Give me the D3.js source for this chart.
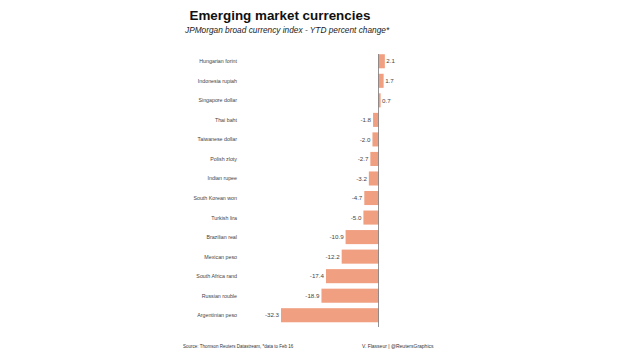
<!DOCTYPE html>
<html><head><meta charset="utf-8">
<script src="https://cdn.jsdelivr.net/npm/d3@7"></script>
<style>body{margin:0;background:#fff}svg{display:block}text{font-family:Arial,"Liberation Sans",sans-serif}</style>
</head><body><svg id="c" width="620" height="355"></svg>
<script>
const categories = ["Hungarian forint","Indonesia rupiah","Singapore dollar","Thai baht","Taiwanese dollar","Polish zloty","Indian rupee","South Korean won","Turkish lira","Brazilian real","Mexican peso","South Africa rand","Russian rouble","Argentinian peso"];
const values = [2.1,1.7,0.7,-1.8,-2.0,-2.7,-3.2,-4.7,-5.0,-10.9,-12.2,-17.4,-18.9,-32.3];
const valueLabels = ["2.1","1.7","0.7","-1.8","-2.0","-2.7","-3.2","-4.7","-5.0","-10.9","-12.2","-17.4","-18.9","-32.3"];

const svg = d3.select("#c");
const x = d3.scaleLinear().domain([-32.3, 0]).range([281, 378.5]);
const y = d3.scaleBand().domain(categories).range([51.5, 325]).paddingInner(0.28).paddingOuter(0.14);

svg.append("text").attr("x", 189.5).attr("y", 20).attr("font-size", 13.4).attr("font-weight", "bold").attr("fill", "#111").text("Emerging market currencies");
svg.append("text").attr("x", 185).attr("y", 33).attr("font-size", 8.3).attr("font-style", "italic").attr("fill", "#222").text("JPMorgan broad currency index - YTD percent change*");

svg.selectAll("rect.bar").data(values).join("rect").attr("class","bar")
  .attr("x", d => x(Math.min(0, d)))
  .attr("width", d => Math.abs(x(d) - x(0)))
  .attr("y", (d,i) => y(categories[i]))
  .attr("height", y.bandwidth())
  .attr("fill", "#f09f80");

svg.append("line").attr("x1", x(0)).attr("x2", x(0)).attr("y1", 54).attr("y2", 327).attr("stroke", "#777").attr("stroke-width", 0.8);

svg.selectAll("text.cat").data(categories).join("text").attr("class","cat")
  .attr("x", 237).attr("y", d => y(d) + y.bandwidth()/2 + 2)
  .attr("text-anchor", "end").attr("font-size", 5.3).attr("fill", "#444").text(d => d);

svg.selectAll("text.val").data(values).join("text").attr("class","val")
  .attr("x", d => d >= 0 ? x(d) + 1.5 : x(d) - 2)
  .attr("y", (d,i) => y(categories[i]) + y.bandwidth()/2 + 2.2)
  .attr("text-anchor", d => d >= 0 ? "start" : "end")
  .attr("font-size", 6.2).attr("fill", "#444").text((d,i) => valueLabels[i]);

svg.append("text").attr("x", 183).attr("y", 348).attr("font-size", 4.5).attr("fill", "#333").text("Source: Thomson Reuters Datastream, *data to Feb 16");
svg.append("text").attr("x", 362).attr("y", 348).attr("font-size", 5).attr("fill", "#333").text("V. Flasseur | @ReutersGraphics");
</script></body></html>
